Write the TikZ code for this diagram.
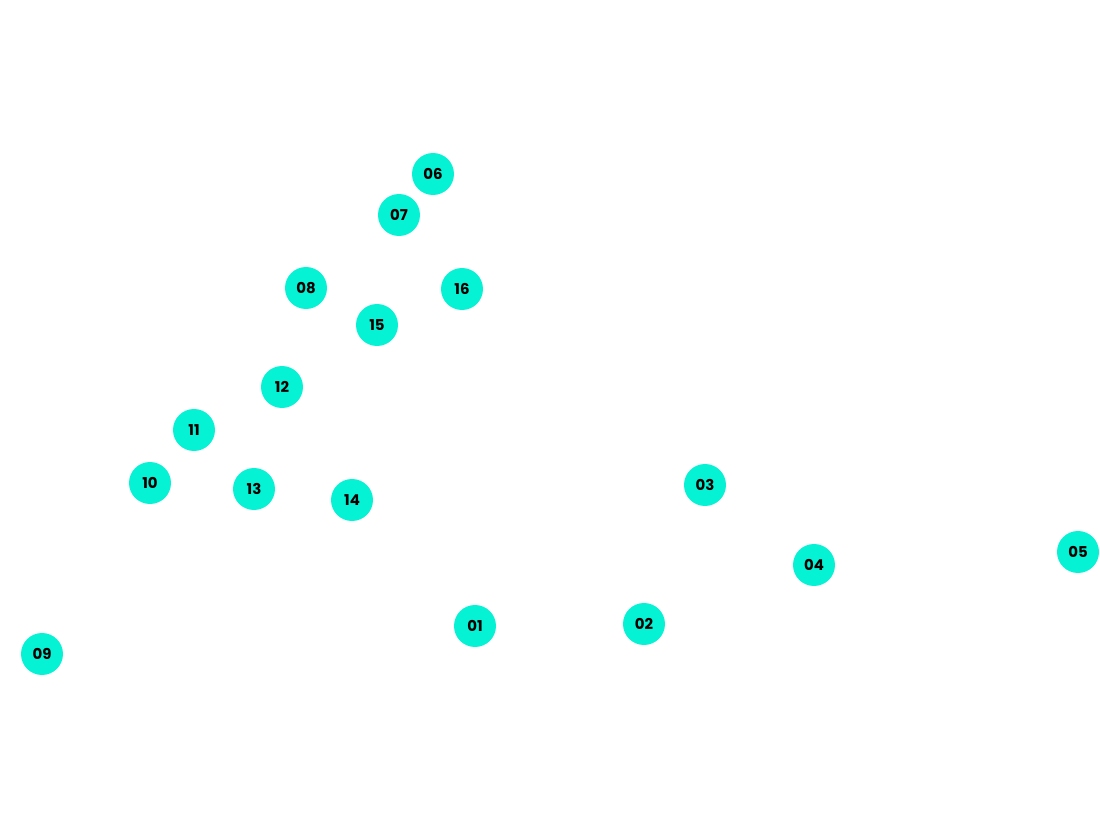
\documentclass[tikz,border=0pt]{standalone}
\usepackage{fontspec}
\setmainfont{Poppins}
\definecolor{spot}{HTML}{05F2D4}

\begin{document}
\begin{tikzpicture}[x=0.02cm,y=-0.02cm]
        \tikzstyle{every node}+=[inner sep=0pt]
        \tikzstyle{station}=[circle,fill=spot,minimum size=0.84cm,font=\fontsize{8.5}{10}\selectfont\bfseries]
        \useasboundingbox (0,0) rectangle (1100,818);
        \node [station] (n01) at (475,626) {01};
        \node [station] (n02) at (644,624) {02};
        \node [station] (n03) at (705,485) {03};
        \node [station] (n04) at (814,565) {04};
        \node [station] (n05) at (1078,552) {05};
        \node [station] (n06) at (433,174) {06};
        \node [station] (n07) at (399,215) {07};
        \node [station] (n08) at (306,288) {08};
        \node [station] (n09) at (42,654) {09};
        \node [station] (n10) at (150,483) {10};
        \node [station] (n11) at (194,430) {11};
        \node [station] (n12) at (282,387) {12};
        \node [station] (n13) at (254,489) {13};
        \node [station] (n14) at (352,500) {14};
        \node [station] (n15) at (377,325) {15};
        \node [station] (n16) at (462,289) {16};
\end{tikzpicture}
\end{document}
